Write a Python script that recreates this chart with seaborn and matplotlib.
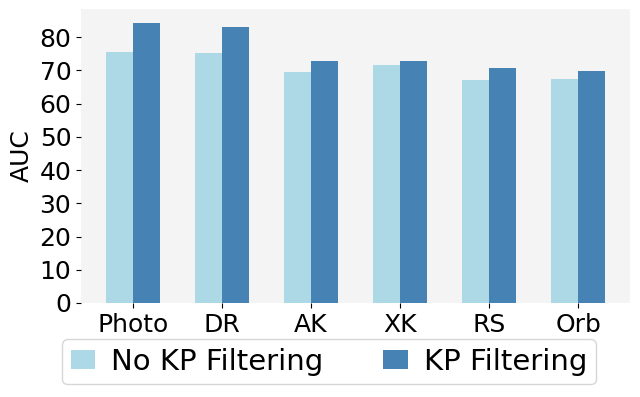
import matplotlib
matplotlib.use("Agg")
import matplotlib.pyplot as plt
import seaborn as sns
import pandas as pd

categories = ["Photo", "DR", "AK", "XK", "RS", "Orb"]
no_kp = [75.5, 75.2, 69.5, 71.6, 67.1, 67.4]
kp = [84.2, 83.0, 72.8, 72.8, 70.7, 69.8]
series = ["No KP Filtering", "KP Filtering"]
colors = ["#add8e6", "#4682b4"]

df = pd.DataFrame({
    "cat": categories * 2,
    "AUC": no_kp + kp,
    "series": [series[0]] * len(categories) + [series[1]] * len(categories),
})

fig = plt.figure(figsize=(6.4, 3.97), dpi=100)
ax = fig.add_axes([0.1266, 0.2368, 0.858, 0.740])
sns.barplot(data=df, x="cat", y="AUC", hue="series", palette=colors,
            width=0.6, ax=ax, saturation=1)
ax.set_xlim(-0.584, 5.584)
ax.set_facecolor("#f4f4f4")
for s in ax.spines.values():
    s.set_visible(False)
ax.set_xlabel("")
ax.set_ylabel("AUC", fontsize=18)
ax.tick_params(axis="both", labelsize=18)
ax.set_yticks(range(0, 90, 10))
ax.get_legend().remove()
handles, labels = ax.get_legend_handles_labels()
fig.legend(handles, labels, loc="center", bbox_to_anchor=(0.514, 0.089),
           ncol=2, fontsize=21, handlelength=0.83, handleheight=0.65,
           columnspacing=2.05, handletextpad=0.55, borderpad=0.3,
           borderaxespad=0)
fig.savefig("out.png", dpi=100)
